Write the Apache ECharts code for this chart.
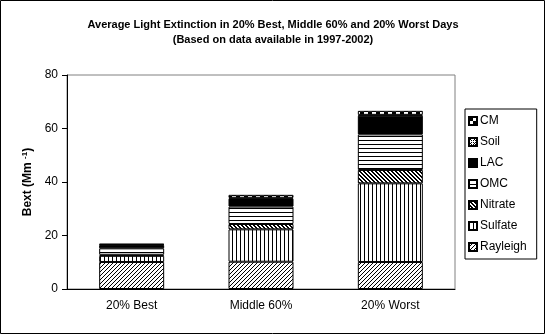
<!DOCTYPE html>
<html>
<head>
<meta charset="utf-8">
<script src="https://cdn.jsdelivr.net/npm/echarts@6/dist/echarts.min.js"></script>
<style>
  html, body { margin: 0; padding: 0; background: #fff; }
  #chart { width: 546px; height: 336px; }
</style>
</head>
<body>
<div id="chart"></div>
<script>
// Categories and extinction components (Mm^-1), stacked bottom to top
const categories = ['20% Best', 'Middle 60%', '20% Worst'];
const rayleigh = [10.1, 10.2, 10.1];
const sulfate  = [2.3, 12.1, 29.4];
const nitrate  = [0.4, 2.0, 5.0];
const omc      = [2.4, 6.5, 13.3];
const lac      = [1.2, 3.0, 7.0];
const soil     = [0.2, 0.3, 0.3];
const cm       = [0.3, 1.1, 1.5];
const legendOrder = ['CM', 'Soil', 'LAC', 'OMC', 'Nitrate', 'Sulfate', 'Rayleigh'];
const yTicks = { min: 0, max: 80, interval: 20 };

// Black-and-white fill patterns built on small canvases
function pattern(w, h, draw) {
  const c = document.createElement('canvas');
  c.width = w; c.height = h;
  const ctx = c.getContext('2d');
  ctx.fillStyle = '#fff';
  ctx.fillRect(0, 0, w, h);
  ctx.fillStyle = '#000';
  draw(ctx);
  return { image: c, repeat: 'repeat' };
}
const fills = {
  Rayleigh: pattern(4, 4, ctx => { for (let i = 0; i < 4; i++) ctx.fillRect(i, 3 - i, 1, 1); }),
  Sulfate: pattern(4, 1, ctx => { ctx.fillRect(0, 0, 1, 1); }),
  Nitrate: pattern(4, 4, ctx => { for (let i = 0; i < 4; i++) { ctx.fillRect(i, i, 1, 1); ctx.fillRect((i + 1) % 4, i, 1, 1); } }),
  OMC: pattern(1, 4, ctx => { ctx.fillRect(0, 0, 1, 1); }),
  LAC: '#000',
  Soil: pattern(4, 4, ctx => { ctx.fillRect(0, 0, 1, 1); ctx.fillRect(2, 0, 1, 1); ctx.fillRect(0, 2, 1, 1); ctx.fillRect(2, 2, 1, 1); ctx.fillRect(1, 1, 1, 1); }),
  CM: pattern(8, 8, ctx => { ctx.fillRect(0, 0, 4, 4); ctx.fillRect(4, 4, 4, 4); })
};

const seriesData = [
  ['Rayleigh', rayleigh], ['Sulfate', sulfate], ['Nitrate', nitrate],
  ['OMC', omc], ['LAC', lac], ['Soil', soil], ['CM', cm]
];

const font = 'Arial, "Liberation Sans", sans-serif';
const chart = echarts.init(document.getElementById('chart'), null, { renderer: 'canvas' });
chart.setOption({
  animation: false,
  backgroundColor: '#fff',
  title: {
    text: 'Average Light Extinction in 20% Best, Middle 60% and 20% Worst Days\n(Based on data available in 1997-2002)',
    left: 'center',
    top: 12,
    textStyle: { fontFamily: font, fontSize: 11, fontWeight: 'bold', color: '#000', lineHeight: 15, align: 'center' }
  },
  grid: {
    left: 67, right: 91, top: 75, bottom: 47,
    show: true, borderColor: '#808080', borderWidth: 1, backgroundColor: 'transparent'
  },
  legend: {
    orient: 'vertical',
    left: 465, top: 109,
    padding: [6, 10, 6, 3],
    icon: 'rect',
    itemWidth: 8, itemHeight: 8, itemGap: 9,
    borderColor: '#000', borderWidth: 1,
    data: legendOrder,
    selectedMode: false,
    textStyle: { fontFamily: font, fontSize: 12, color: '#000', padding: [0, 0, 0, -2] }
  },
  xAxis: {
    type: 'category',
    data: categories,
    axisLine: { lineStyle: { color: '#000', width: 1 } },
    axisTick: { length: 5, lineStyle: { color: '#000' } },
    axisLabel: { color: '#000', fontFamily: font, fontSize: 12, margin: 11 }
  },
  yAxis: {
    type: 'value',
    min: yTicks.min, max: yTicks.max, interval: yTicks.interval,
    name: '{a|Bext (Mm }{s|-1}{a|)}',
    nameLocation: 'middle',
    nameGap: 32,
    nameRotate: 90,
    nameTextStyle: {
      rich: {
        a: { fontFamily: font, fontSize: 12, fontWeight: 'bold', color: '#000' },
        s: { fontFamily: font, fontSize: 8, fontWeight: 'bold', color: '#000', verticalAlign: 'top', padding: [0, 0, 6, 0] }
      }
    },
    splitLine: { show: false },
    axisLine: { show: true, lineStyle: { color: '#000', width: 1 } },
    axisTick: { show: true, length: 5, lineStyle: { color: '#000' } },
    axisLabel: { color: '#000', fontFamily: font, fontSize: 12, margin: 9 }
  },
  series: seriesData.map(([name, values]) => ({
    name,
    type: 'bar',
    stack: 'total',
    barWidth: 65,
    data: values,
    itemStyle: { color: fills[name], borderColor: '#000', borderWidth: 1 },
    emphasis: { disabled: true }
  })),
  graphic: [{
    type: 'rect',
    shape: { x: 0.5, y: 0.5, width: 544, height: 333 },
    style: { fill: 'none', stroke: '#000', lineWidth: 1 },
    silent: true
  }]
});
</script>
</body>
</html>
